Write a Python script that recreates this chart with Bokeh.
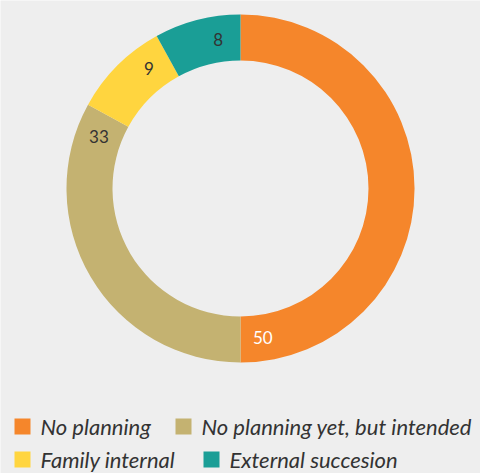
import math
from bokeh.plotting import figure
from bokeh.models import Range1d, ColumnDataSource
from bokeh.core.properties import value
from bokeh.embed import file_html
from bokeh.resources import INLINE

categories = ["No planning", "No planning yet, but intended", "Family internal", "External succesion"]
values = [50, 33, 9, 8]
colors = ["#F5862B", "#C4B271", "#FFD53F", "#1A9E96"]
label_colors = ["#ffffff", "#333333", "#333333", "#333333"]

W, H = 480, 473
BG = "#EEEEEE"
p = figure(width=W, height=H, output_backend="svg", toolbar_location=None,
           x_range=Range1d(0, W), y_range=Range1d(0, H),
           background_fill_color=BG, border_fill_color=BG, min_border=0)
p.axis.visible = False
p.grid.visible = False
p.outline_line_color = None

def Y(img_y):
    return H - img_y
def X(img_x):
    return img_x

cx, cy = X(240), Y(188)
r_in, r_out = 128, 174
total = sum(values)
starts, ends, lx, ly = [], [], [], []
cum = 0
for v in values:
    a0 = cum / total * 2 * math.pi
    cum += v
    a1 = cum / total * 2 * math.pi
    starts.append(math.pi / 2 - a0)
    ends.append(math.pi / 2 - a1)
    la = a1 - math.radians(8.5)
    lx.append(cx + 151 * math.sin(la))
    ly.append(cy + 151 * math.cos(la))

src = ColumnDataSource(dict(start=starts, end=ends, color=colors,
                            lx=lx, ly=ly, txt=[str(v) for v in values], tc=label_colors))
p.annular_wedge(x=cx, y=cy, inner_radius=r_in, outer_radius=r_out,
                start_angle="start", end_angle="end", direction="clock",
                fill_color="color", line_color=None, source=src)
p.text(x="lx", y="ly", text="txt", text_color="tc", text_align="center",
       text_baseline="middle", text_font=value("Lato"), text_font_size="17px", source=src)

# legend (flow layout, two rows)
sq_x = [X(22), X(183), X(22), X(211)]
sq_y = [Y(426), Y(426), Y(459), Y(459)]
tx = [X(40), X(201), X(40), X(229)]
p.scatter(x=sq_x, y=sq_y, marker="square", size=16, fill_color=colors, line_color=None)
p.text(x=tx, y=sq_y, text=categories, text_color="#333333", text_align="left",
       text_baseline="middle", text_font=value("Lato"), text_font_style="italic",
       text_font_size="22px")

open("out.html", "w").write(file_html(p, INLINE))
